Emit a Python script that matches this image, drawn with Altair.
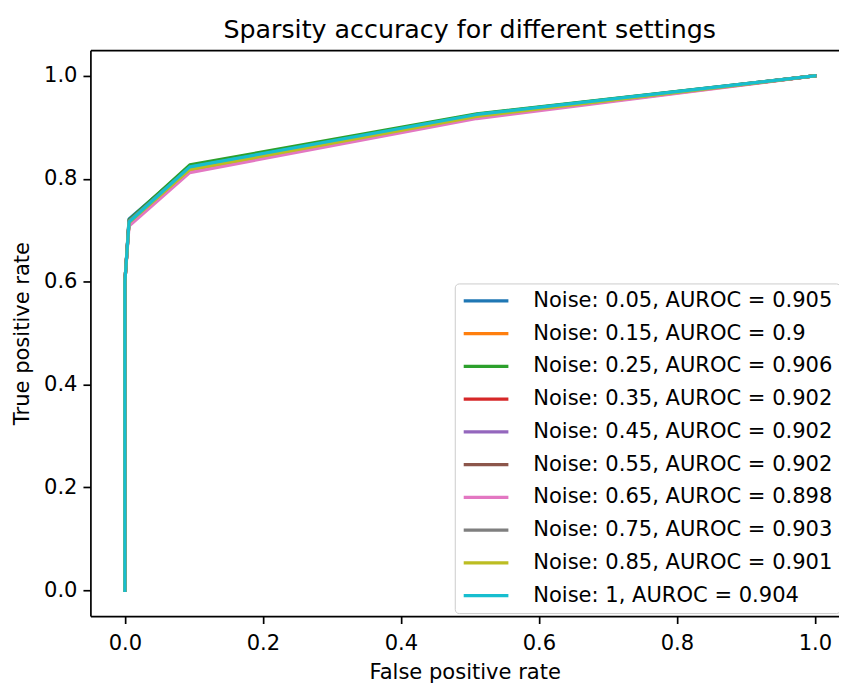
import altair as alt
import pandas as pd

# ---- data ----
fpr = [0.0, 0.0, 0.006, 0.094, 0.51, 1.0]
noise_levels = ["0.05", "0.15", "0.25", "0.35", "0.45", "0.55", "0.65", "0.75", "0.85", "1"]
aurocs = ["0.905", "0.9", "0.906", "0.902", "0.902", "0.902", "0.898", "0.903", "0.901", "0.904"]
tpr_05 = [0.0, 0.60, 0.722, 0.824, 0.925, 1.0]
tpr_15 = [0.0, 0.60, 0.714, 0.816, 0.919, 1.0]
tpr_25 = [0.0, 0.60, 0.720, 0.827, 0.926, 1.0]
tpr_35 = [0.0, 0.60, 0.716, 0.820, 0.922, 1.0]
tpr_45 = [0.0, 0.60, 0.717, 0.820, 0.922, 1.0]
tpr_55 = [0.0, 0.60, 0.716, 0.821, 0.922, 1.0]
tpr_65 = [0.0, 0.60, 0.708, 0.812, 0.917, 1.0]
tpr_75 = [0.0, 0.60, 0.718, 0.822, 0.923, 1.0]
tpr_85 = [0.0, 0.60, 0.715, 0.818, 0.921, 1.0]
tpr_100 = [0.0, 0.60, 0.716, 0.823, 0.925, 1.0]
tprs = [tpr_05, tpr_15, tpr_25, tpr_35, tpr_45, tpr_55, tpr_65, tpr_75, tpr_85, tpr_100]
colors = ["#1f77b4", "#ff7f0e", "#2ca02c", "#d62728", "#9467bd",
          "#8c564b", "#e377c2", "#7f7f7f", "#bcbd22", "#17becf"]
ticks = [0.0, 0.2, 0.4, 0.6, 0.8, 1.0]

labels = [f"Noise: {n}, AUROC = {a}" for n, a in zip(noise_levels, aurocs)]
rows = []
for lab, ys in zip(labels, tprs):
    for i, (x, y) in enumerate(zip(fpr, ys)):
        rows.append({"series": lab, "fpr": x, "tpr": y, "idx": i})
df = pd.DataFrame(rows)

FONT = "DejaVu Sans"
FS = 21.2

xscale = alt.Scale(domain=[-0.05, 1.035], nice=False, zero=False)
yscale = alt.Scale(domain=[-0.05, 1.05], nice=False, zero=False)

axis_common = dict(values=ticks, format=".1f", grid=False, labelFont=FONT,
                   labelFontSize=FS, labelColor="black", titleFont=FONT,
                   titleFontSize=FS, titleColor="black", titleFontWeight="normal",
                   tickColor="black", tickWidth=1.7, tickSize=7.5,
                   domainColor="black", domainWidth=1.7, labelFlush=False,
                   labelOverlap=False)

lines = alt.Chart(df).mark_line(strokeWidth=3.2, strokeCap="square", strokeJoin="round").encode(
    x=alt.X("fpr:Q", scale=xscale,
            axis=alt.Axis(title="False positive rate", labelPadding=9, titlePadding=8, **axis_common)),
    y=alt.Y("tpr:Q", scale=yscale,
            axis=alt.Axis(title="True positive rate", labelPadding=6, titlePadding=11, **axis_common)),
    color=alt.Color("series:N", scale=alt.Scale(domain=labels, range=colors),
                    legend=alt.Legend(title=None, orient="none", legendX=367, legendY=235,
                                      padding=7, strokeColor="#cccccc",
                                      fillColor="rgba(255,255,255,0.85)", cornerRadius=4,
                                      symbolType="stroke", symbolSize=2025,
                                      symbolStrokeWidth=3.2, labelFont=FONT,
                                      labelFontSize=FS, labelColor="black",
                                      labelOffset=23, rowPadding=11, clipHeight=21,
                                      labelLimit=500)),
    order=alt.Order("idx:Q"),
)

top_spine = alt.Chart(df).mark_line(opacity=0).encode(
    x=alt.X("fpr:Q", scale=xscale,
            axis=alt.Axis(orient="top", labels=False, ticks=False, title=None,
                          grid=False, domainColor="black", domainWidth=1.7,
                          minExtent=0, maxExtent=0)),
    y=alt.Y("tpr:Q", scale=yscale, axis=None),
    detail="series:N",
    order=alt.Order("idx:Q"),
)

chart = alt.layer(top_spine, lines).resolve_axis(x="independent", y="independent").properties(
    width=754,
    height=570,
    title=alt.TitleParams("Sparsity accuracy for different settings", font=FONT,
                          fontSize=25.5, fontWeight="normal", color="black",
                          anchor="middle", baseline="alphabetic", offset=13, dx=5, dy=26),
    autosize=alt.AutoSizeParams(type="none"),
    padding={"left": 83, "top": 40, "right": 0, "bottom": 66},
).configure_view(stroke=None).configure(background="white")

chart.save("out.html", embed_options={"renderer": "svg", "actions": False})
